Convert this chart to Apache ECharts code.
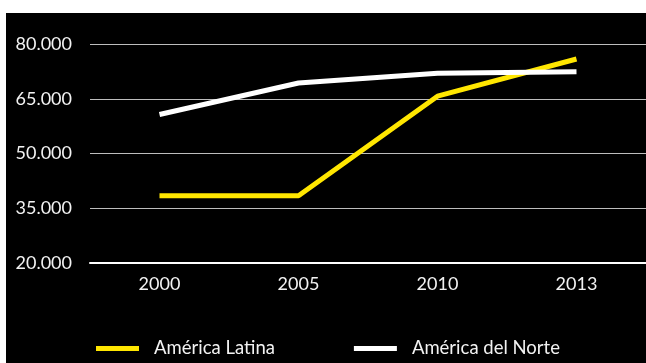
<!DOCTYPE html>
<html>
<head>
<meta charset="utf-8">
<script src="https://cdn.jsdelivr.net/npm/echarts@6/dist/echarts.min.js"></script>
<style>
  html, body { margin: 0; padding: 0; background: #ffffff; width: 646px; height: 363px; overflow: hidden; }
  #chart { position: absolute; left: 6px; top: 13px; width: 640px; height: 350px; }
</style>
</head>
<body>
<div id="chart"></div>
<script>
// Years on the horizontal axis
const years = ['2000', '2005', '2010', '2013'];
// Series values
const americaLatina = [38400, 38400, 65700, 75900];
const americaNorte = [60700, 69300, 72000, 72400];
// Value axis range and step
const yMin = 20000;
const yMax = 80000;
const yStep = 15000;

function fmtThousands(v) {
  return String(Math.round(v)).replace(/\B(?=(\d{3})+(?!\d))/g, '.');
}

const chart = echarts.init(document.getElementById('chart'), null, { renderer: 'canvas' });
const textStyle = { color: '#f2f2f2', fontFamily: 'Lato', fontSize: 18 };

chart.setOption({
  backgroundColor: '#000000',
  animation: false,
  grid: { left: 84, right: 0, top: 31, height: 219 },
  legend: {
    left: 85,
    top: 321,
    itemWidth: 43,
    itemHeight: 5,
    itemGap: 79,
    textStyle: { color: '#f2f2f2', fontFamily: 'Lato', fontSize: 18.5, padding: [0, 0, 0, 10] },
    data: [
      { name: 'América Latina', icon: 'rect' },
      { name: 'América del Norte', icon: 'rect' }
    ]
  },
  xAxis: {
    type: 'category',
    data: years,
    boundaryGap: true,
    axisLine: { show: true, lineStyle: { color: '#ffffff', width: 2 } },
    axisTick: { show: false },
    axisLabel: Object.assign({ margin: 12 }, textStyle)
  },
  yAxis: {
    type: 'value',
    min: yMin,
    max: yMax,
    interval: yStep,
    axisLine: { show: false },
    axisTick: { show: false },
    splitLine: { lineStyle: { color: '#bdbdbd', width: 1 } },
    axisLabel: Object.assign({ margin: 18, formatter: fmtThousands }, textStyle)
  },
  series: [
    {
      name: 'América Latina',
      type: 'line',
      data: americaLatina,
      symbol: 'none',
      color: '#ffe600',
      lineStyle: { color: '#ffe600', width: 5 }
    },
    {
      name: 'América del Norte',
      type: 'line',
      data: americaNorte,
      symbol: 'none',
      color: '#ffffff',
      lineStyle: { color: '#ffffff', width: 5 }
    }
  ]
});
</script>
</body>
</html>
